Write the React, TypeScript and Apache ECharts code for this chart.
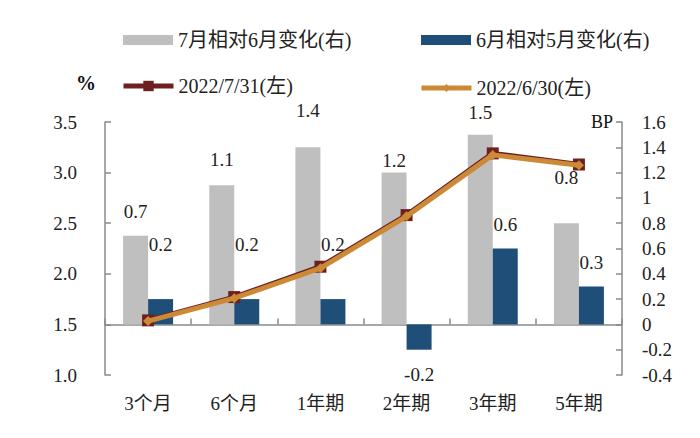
import React, { useEffect, useRef } from "react";
import * as echarts from "echarts";

const categories = ["3个月", "6个月", "1年期", "2年期", "3年期", "5年期"];
const changeJulJun = [0.7, 1.1, 1.4, 1.2, 1.5, 0.8];
const changeJunMay = [0.2, 0.2, 0.2, -0.2, 0.6, 0.3];
const yield0731 = [1.54, 1.77, 2.07, 2.58, 3.19, 3.08];
const yield0630 = [1.533, 1.759, 2.056, 2.568, 3.175, 3.072];
const leftTicks = { min: 1.0, max: 3.5, interval: 0.5 };
const rightTicks = { min: -0.4, max: 1.6, interval: 0.2 };

const names = ["7月相对6月变化(右)", "6月相对5月变化(右)", "2022/7/31(左)", "2022/6/30(左)"];

const greyLabelDist = [15, 16, 27, 3, 13, 36];
const blueLabelDist = [45, 45, 45, 15, 15, 14];

const FONT = "'Liberation Serif', 'Noto Sans CJK SC', serif";
const FS = 19;

export default function App() {
  const ref = useRef<HTMLDivElement>(null);
  useEffect(() => {
    if (!ref.current) return;
    const chart = echarts.init(ref.current, null, { renderer: "svg" });
    const axisLine = { show: true, lineStyle: { color: "#8a8a8a", width: 1.5 } };
    const tick = { show: true, inside: true, length: 6, lineStyle: { color: "#8a8a8a", width: 1.5 } };
    const legendCommon = {
      selectedMode: false,
      itemWidth: 50,
      itemHeight: 10,
      itemGap: 5,
      textStyle: { fontSize: 20, color: "#222", fontFamily: FONT },
    };
    chart.setOption({
      animation: false,
      textStyle: { fontFamily: FONT },
      grid: { left: 105, right: 78, top: 122, bottom: 63, containLabel: false },
      legend: [
        { ...legendCommon, icon: "rect", data: [names[0]], left: 118, top: 25 },
        { ...legendCommon, icon: "rect", data: [names[1]], left: 416, top: 25 },
        {
          ...legendCommon,
          itemHeight: 13,
          lineStyle: { width: 5 },
          data: [names[2]],
          left: 116,
          top: 71,
        },
        {
          ...legendCommon,
          itemHeight: 10,
          lineStyle: { width: 5 },
          data: [names[3]],
          left: 414,
          top: 73,
        },
      ],
      graphic: [
        {
          type: "text",
          left: 76,
          top: 73,
          style: { text: "%", fontSize: 20, fontWeight: "bold", fill: "#111", fontFamily: FONT },
        },
        {
          type: "text",
          left: 591,
          top: 113,
          style: { text: "BP", fontSize: 18, fill: "#111", fontFamily: FONT },
        },
      ],
      xAxis: {
        type: "category",
        data: categories,
        axisLine,
        axisTick: tick,
        axisLabel: { fontSize: FS, color: "#222", margin: 19, fontFamily: FONT },
      },
      yAxis: [
        {
          type: "value",
          position: "left",
          min: leftTicks.min,
          max: leftTicks.max,
          interval: leftTicks.interval,
          splitLine: { show: false },
          axisLine,
          axisTick: tick,
          axisLabel: {
            fontSize: FS,
            color: "#222",
            margin: 28,
            fontFamily: FONT,
            formatter: (v: number) => v.toFixed(1),
          },
        },
        {
          type: "value",
          position: "right",
          min: rightTicks.min,
          max: rightTicks.max,
          interval: rightTicks.interval,
          splitLine: { show: false },
          axisLine,
          axisTick: tick,
          axisLabel: {
            fontSize: FS,
            color: "#222",
            margin: 20,
            fontFamily: FONT,
            formatter: (v: number) => String(Math.round(v * 10) / 10),
          },
        },
      ],
      series: [
        {
          name: names[0],
          type: "bar",
          yAxisIndex: 1,
          barWidth: 25,
          barGap: "0%",
          itemStyle: { color: "#BFBFBF" },
          data: changeJulJun.map((v, i) => ({
            value: v,
            label: {
              show: true,
              position: "top",
              distance: greyLabelDist[i],
              fontSize: FS,
              color: "#222",
              fontFamily: FONT,
              formatter: (p: any) => Number(p.value).toFixed(1),
            },
          })),
        },
        {
          name: names[1],
          type: "bar",
          yAxisIndex: 1,
          barWidth: 25,
          barGap: "0%",
          itemStyle: { color: "#1F4E79" },
          data: changeJunMay.map((v, i) => ({
            value: v,
            label: {
              show: true,
              position: v < 0 ? "bottom" : "top",
              distance: blueLabelDist[i],
              fontSize: FS,
              color: "#222",
              fontFamily: FONT,
              formatter: (p: any) => Number(p.value).toFixed(1),
            },
          })),
        },
        {
          name: names[2],
          type: "line",
          yAxisIndex: 0,
          data: yield0731,
          symbol: "rect",
          symbolSize: 12,
          z: 3,
          itemStyle: { color: "#6E2020" },
          lineStyle: { color: "#6E2020", width: 5 },
        },
        {
          name: names[3],
          type: "line",
          yAxisIndex: 0,
          data: yield0630,
          symbol: "diamond",
          symbolSize: 10,
          z: 4,
          itemStyle: { color: "#CC8A36" },
          lineStyle: { color: "#CC8A36", width: 5 },
        },
      ],
    });
    return () => chart.dispose();
  }, []);
  return <div ref={ref} style={{ width: 700, height: 438, margin: -8 }} />;
}
